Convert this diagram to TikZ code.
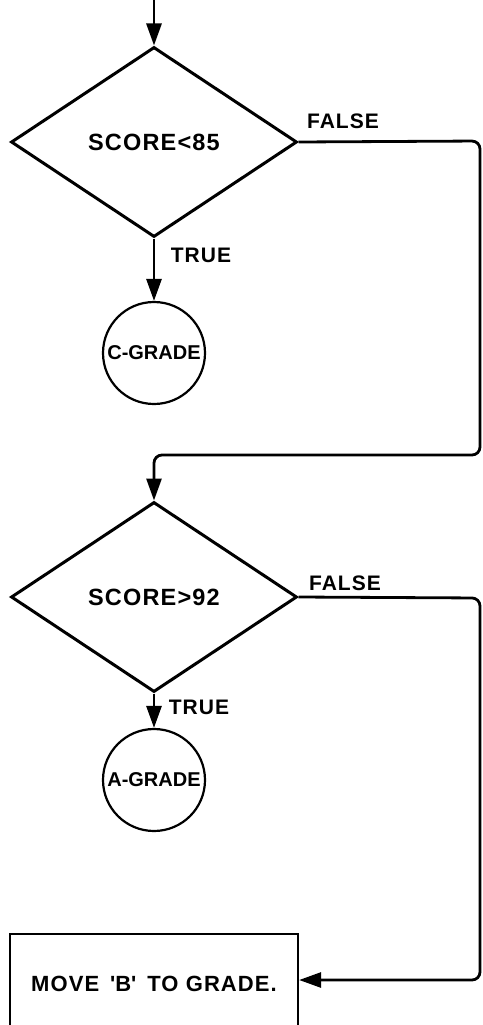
\documentclass[tikz,border=0pt]{standalone}
\usepackage{fontspec}
\setmainfont{Liberation Sans}[LetterSpace=5]
\usetikzlibrary{shapes.geometric,arrows.meta}
\begin{document}
\begin{tikzpicture}[x=1pt,y=-1pt,
  decision/.style={diamond,draw,line width=3pt,minimum width=286pt,minimum height=190pt,inner sep=0pt,aspect=1.5,font=\fontsize{23.5}{26}\selectfont\bfseries},
  grade/.style={circle,draw,line width=2.2pt,minimum size=102pt,inner sep=0pt,font=\fontsize{20}{24}\selectfont\bfseries\addfontfeature{LetterSpace=0}},
  action/.style={rectangle,draw,line width=2.2pt,minimum width=288pt,minimum height=100pt,inner sep=0pt,font=\fontsize{22}{26}\selectfont\bfseries},
  lbl/.style={font=\fontsize{21}{24}\selectfont\bfseries,inner sep=0pt},
  conn/.style={line width=2.8pt,rounded corners=8pt},
  tip/.style={-{Triangle[length=22pt,width=15pt]}}]
\useasboundingbox (0,0) rectangle (482,1025);
\clip (0,0) rectangle (482,1025);
\coordinate (start) at (154,0);
\node[decision] (d1) at (154,142) {SCORE<85};
\node[grade] (c) at (154,353) {C-GRADE};
\node[decision] (d2) at (154,597) {SCORE>92};
\node[grade] (a) at (154,780) {A-GRADE};
\node[action] (b) at (154,984) {MOVE \,\textquotesingle B\textquotesingle\, TO GRADE.};
\coordinate (r1) at (480,141);
\coordinate (r2) at (480,455);
\coordinate (r3) at (154,455);
\coordinate (s1) at (480,598);
\coordinate (s2) at (480,980);
\node[lbl] (f1) at (343,121) {FALSE};
\node[lbl] (t1) at (201,255) {TRUE};
\node[lbl] (f2) at (345,583) {FALSE};
\node[lbl] (t2) at (199,707) {TRUE};
\draw[conn,tip] (start) -- (d1.north);
\draw[conn,tip] (d1.south) -- (c.north);
\draw[conn,tip] (d1.east) -- (r1) -- (r2) -- (r3) -- (d2.north);
\draw[conn,tip] (d2.south) -- (a.north);
\draw[conn,tip] (d2.east) -- (s1) -- (s2) -- (s2 -| b.east);
\end{tikzpicture}
\end{document}
